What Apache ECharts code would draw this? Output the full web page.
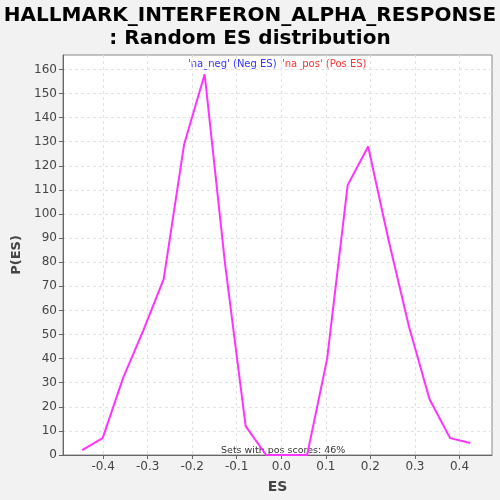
<!DOCTYPE html>
<html>
<head>
<meta charset="utf-8">
<script src="https://cdn.jsdelivr.net/npm/echarts@6/dist/echarts.min.js"></script>
<style>
  html, body { margin: 0; padding: 0; background: #f2f2f2; }
  #chart { width: 500px; height: 500px; }
</style>
</head>
<body>
<div id="chart"></div>
<script>
// ES bins and their densities
const esValues = [-0.447, -0.401, -0.355, -0.309, -0.264, -0.218, -0.172, -0.126, -0.080, -0.034,
  0.012, 0.058, 0.103, 0.149, 0.195, 0.241, 0.287, 0.333, 0.379, 0.424]
const density = [2, 7, 32, 52, 73, 129, 158, 79, 12, 0,
  0, 0, 40, 112, 128, 89, 53, 23, 7, 5]
const xTicks = [-0.4, -0.3, -0.2, -0.1, 0.0, 0.1, 0.2, 0.3, 0.4]
const yTicks = [0, 10, 20, 30, 40, 50, 60, 70, 80, 90, 100, 110, 120, 130, 140, 150, 160]

const myChart = echarts.init(document.getElementById('chart'))
myChart.setOption({
  backgroundColor: '#f2f2f2',
  animation: false,
  textStyle: { fontFamily: 'DejaVu Sans' },
  title: {
    text: 'HALLMARK_INTERFERON_ALPHA_RESPONSE\n: Random ES distribution',
    left: 'center',
    top: -1,
    textStyle: {
      fontFamily: 'DejaVu Sans',
      fontWeight: 'bold',
      fontSize: 20,
      lineHeight: 23,
      color: '#000'
    }
  },
  grid: {
    left: 63,
    right: 8,
    top: 55,
    bottom: 45,
    outerBoundsMode: 'none',
    show: true,
    backgroundColor: '#fff',
    borderColor: '#888',
    borderWidth: 1
  },
  xAxis: {
    type: 'value',
    min: -0.49,
    max: 0.473,
    name: 'ES',
    nameLocation: 'middle',
    nameGap: 25,
    nameTextStyle: { fontWeight: 'bold', fontSize: 14, color: '#444' },
    axisLine: { show: true, onZero: false, lineStyle: { color: '#666' } },
    axisTick: { show: true, customValues: xTicks, length: 4, lineStyle: { color: '#666' } },
    axisLabel: {
      customValues: xTicks,
      color: '#444',
      fontSize: 12,
      margin: 6,
      formatter: v => v.toFixed(1)
    },
    splitLine: { show: true, lineStyle: { color: '#e2e2e2', type: [3, 3] } }
  },
  yAxis: {
    type: 'value',
    min: 0,
    max: 166,
    name: 'P(ES)',
    nameLocation: 'middle',
    nameGap: 31,
    nameTextStyle: { fontWeight: 'bold', fontSize: 13, color: '#444' },
    axisLine: { show: true, onZero: false, lineStyle: { color: '#666' } },
    axisTick: { show: true, customValues: yTicks, length: 4, lineStyle: { color: '#666' } },
    axisLabel: { customValues: yTicks, color: '#444', fontSize: 12, margin: 6 },
    splitLine: { show: true, lineStyle: { color: '#e2e2e2', type: [3, 3] } }
  },
  graphic: [
    {
      type: 'text',
      left: 188,
      top: 59,
      style: { text: "'na_neg' (Neg ES)", fill: '#3333ff', font: '10px DejaVu Sans' }
    },
    {
      type: 'text',
      left: 282,
      top: 59,
      style: { text: "'na_pos' (Pos ES)", fill: '#ff3333', font: '10px DejaVu Sans' }
    },
    {
      type: 'text',
      left: 221,
      top: 446,
      style: { text: 'Sets with pos scores: 46%', fill: '#333', font: '9.5px DejaVu Sans' }
    }
  ],
  series: [
    {
      type: 'line',
      data: esValues.map((x, i) => [x, density[i]]),
      symbol: 'none',
      lineStyle: { color: '#ff33ff', width: 2 },
      z: 3
    }
  ]
})
</script>
</body>
</html>
